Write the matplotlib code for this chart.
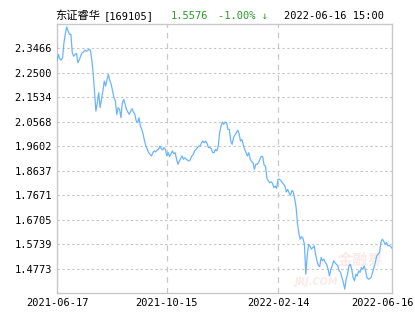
import numpy as np
import matplotlib
matplotlib.use("Agg")
import matplotlib.pyplot as plt
import matplotlib.transforms as mtransforms

plt.rcParams['font.family'] = ['DejaVu Sans Mono', 'Noto Sans CJK SC']

fund_name = "东证睿华"
fund_code = "169105"
last_nav = "1.5576"
last_change = "-1.00% ↓"
stamp = "2022-06-16 15:00"

# daily NAV, trading days 2021-06-17 .. 2022-06-16
nav = [
    2.297, 2.323, 2.305, 2.301, 2.310, 2.369, 2.405, 2.432, 2.415, 2.402,
    2.402, 2.329, 2.316, 2.323, 2.327, 2.290, 2.301, 2.316, 2.329, 2.332,
    2.340, 2.336, 2.338, 2.343, 2.340, 2.303, 2.251, 2.172, 2.099, 2.132,
    2.172, 2.113, 2.145, 2.178, 2.218, 2.198, 2.224, 2.244, 2.220, 2.205,
    2.178, 2.152, 2.139, 2.086, 2.113, 2.106, 2.073, 2.132, 2.145, 2.126,
    2.106, 2.095, 2.086, 2.099, 2.109, 2.095, 2.086, 2.060, 2.053, 2.073,
    2.040, 2.027, 2.007, 1.981, 1.960, 1.948, 1.935, 1.928, 1.922, 1.935,
    1.942, 1.938, 1.945, 1.948, 1.961, 1.951, 1.946, 1.955, 1.948, 1.922,
    1.935, 1.919, 1.930, 1.942, 1.931, 1.935, 1.909, 1.889, 1.902, 1.912,
    1.922, 1.909, 1.915, 1.909, 1.905, 1.902, 1.909, 1.922, 1.928, 1.942,
    1.948, 1.955, 1.961, 1.961, 1.974, 1.981, 1.974, 1.981, 1.970, 1.955,
    1.955, 1.951, 1.935, 1.935, 1.948, 1.942, 1.961, 2.014, 2.040, 2.056,
    2.047, 2.056, 2.053, 2.027, 2.027, 1.981, 1.968, 1.994, 2.005, 2.014,
    2.024, 2.010, 1.981, 1.987, 1.968, 1.948, 1.935, 1.922, 1.935, 1.909,
    1.900, 1.896, 1.869, 1.889, 1.889, 1.896, 1.910, 1.921, 1.919, 1.886,
    1.882, 1.834, 1.824, 1.816, 1.820, 1.814, 1.797, 1.803, 1.794, 1.830,
    1.830, 1.825, 1.817, 1.810, 1.803, 1.780, 1.790, 1.775, 1.767, 1.786,
    1.780, 1.753, 1.720, 1.655, 1.616, 1.593, 1.603, 1.596, 1.573, 1.455,
    1.527, 1.573, 1.567, 1.554, 1.560, 1.567, 1.534, 1.508, 1.490, 1.485,
    1.521, 1.508, 1.514, 1.501, 1.494, 1.475, 1.448, 1.475, 1.488, 1.508,
    1.501, 1.494, 1.488, 1.468, 1.462, 1.442, 1.422, 1.396, 1.435, 1.455,
    1.488, 1.494, 1.475, 1.442, 1.429, 1.455, 1.448, 1.468, 1.462, 1.481,
    1.475, 1.488, 1.468, 1.442, 1.435, 1.438, 1.442, 1.462, 1.481, 1.501,
    1.527, 1.534, 1.540, 1.580, 1.593, 1.586, 1.573, 1.580, 1.567, 1.569,
    1.564, 1.5576,
]

date_ticks = [0, 79, 159, 241]
date_labels = ["2021-06-17", "2021-10-15", "2022-02-14", "2022-06-16"]
y_ticks = [1.4773, 1.5739, 1.6705, 1.7671, 1.8637, 1.9602, 2.0568, 2.1534, 2.2500, 2.3466]
y_lo, y_hi = 1.3807, 2.4432

grid_c = "#c8c8c8"
fs = 7.5

fig = plt.figure(figsize=(4.15, 3.3), dpi=100)
ax = fig.add_axes([57 / 415, 1 - 293 / 330, 335 / 415, 269 / 330])

ax.plot(np.arange(len(nav)), nav, color="#6ab4ff", lw=0.9, zorder=3)

ax.set_xlim(0, len(nav) - 1)
ax.set_ylim(y_lo, y_hi)

ax.set_yticks(y_ticks)
ax.set_yticklabels(["%.4f" % v for v in y_ticks])
ax.set_xticks(date_ticks)
ax.set_xticklabels(date_labels)
ax.tick_params(length=0, labelsize=fs, colors="black", pad=3.5)

for v in y_ticks:
    ax.axhline(v, color=grid_c, lw=0.8, ls=(0, (2.2, 2.2)), zorder=1)
for d in date_ticks[1:-1]:
    ax.axvline(d, color=grid_c, lw=0.9, ls=(0, (4.5, 4)), zorder=1)

for s in ax.spines.values():
    s.set_color(grid_c)
    s.set_linewidth(1.0)

# last date label is pushed left to stay inside the picture
last = ax.get_xticklabels()[-1]
last.set_transform(last.get_transform() + mtransforms.ScaledTranslation(-10 / 100, 0, fig.dpi_scale_trans))

# faint site watermark
ax.text(0.975, 0.125, "金融界", transform=ax.transAxes, ha="right", va="center",
        fontsize=11, color="#faeaea", family=["Noto Sans CJK SC"], weight="bold", zorder=2)
ax.text(0.84, 0.04, "JRJ.COM", transform=ax.transAxes, ha="right", va="center",
        fontsize=7, color="#faeaea", style="italic", family=["DejaVu Sans"], weight="bold", zorder=2)

# header line
fig.text(55 / 415, 1 - 16 / 330, fund_name, ha="left", va="center", fontsize=8.1,
         family=["Noto Sans CJK SC", "DejaVu Sans"])
fig.text(104 / 415, 1 - 16 / 330, "[" + fund_code + "]", ha="left", va="center", fontsize=fs)
fig.text(171 / 415, 1 - 16 / 330, last_nav, ha="left", va="center", fontsize=fs, color="#2a9a2a")
fig.text(218 / 415, 1 - 16 / 330, last_change, ha="left", va="center", fontsize=fs, color="#2a9a2a")
fig.text(284 / 415, 1 - 16 / 330, stamp, ha="left", va="center", fontsize=fs)

fig.savefig("out.png", dpi=100)
